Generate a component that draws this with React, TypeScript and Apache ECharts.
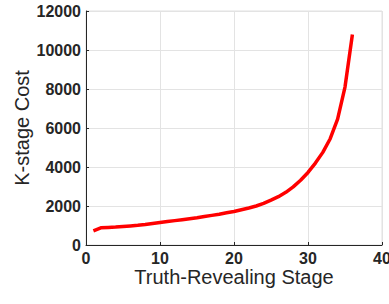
import React, { useEffect, useRef } from "react";
import * as echarts from "echarts";

const stages = [1,2,3,4,5,6,7,8,9,10,11,12,13,14,15,16,17,18,19,20,21,22,23,24,25,26,27,28,29,30,31,32,33,34,35,36];
const costs = [730,880,900,920,950,980,1010,1050,1100,1150,1200,1250,1300,1350,1400,1460,1520,1580,1650,1720,1810,1900,2000,2130,2300,2480,2700,2980,3320,3720,4200,4750,5450,6450,8100,10800];
const xTicks = [0, 10, 20, 30, 40];
const yTicks = [0, 2000, 4000, 6000, 8000, 10000, 12000];
const xLabel = "Truth-Revealing Stage";
const yLabel = "K-stage Cost";

export default function App() {
  const ref = useRef<HTMLDivElement>(null);
  useEffect(() => {
    if (!ref.current) return;
    const chart = echarts.init(ref.current, null, { renderer: "svg" });
    const font = "'Liberation Sans', Arial, Helvetica, sans-serif";
    const dark = "#262626";
    chart.setOption({
      animation: false,
      grid: { left: 86, right: 7, top: 11, bottom: 59, show: true, borderColor: "#e0e0e0", borderWidth: 1, containLabel: false, outerBoundsMode: "none" },
      xAxis: {
        type: "value",
        min: xTicks[0],
        max: xTicks[xTicks.length - 1],
        interval: 10,
        name: xLabel,
        nameLocation: "middle",
        nameGap: 22,
        nameMoveOverlap: false,
        nameTextStyle: { fontFamily: font, fontSize: 20, color: dark, verticalAlign: "top" },
        axisLine: { show: true, lineStyle: { color: dark, width: 1 } },
        axisTick: { show: true, inside: true, length: 3, lineStyle: { color: dark } },
        axisLabel: { fontFamily: font, fontSize: 16, fontWeight: "bold", color: dark, margin: 5, formatter: (v: number) => String(v) },
        splitLine: { show: true, lineStyle: { color: "#e3e3e3", width: 1 } },
      },
      yAxis: {
        type: "value",
        min: yTicks[0],
        max: yTicks[yTicks.length - 1],
        interval: 2000,
        name: yLabel,
        nameLocation: "middle",
        nameGap: 54,
        nameMoveOverlap: false,
        nameTextStyle: { fontFamily: font, fontSize: 20, color: dark },
        axisLine: { show: true, lineStyle: { color: dark, width: 1 } },
        axisTick: { show: true, inside: true, length: 3, lineStyle: { color: dark } },
        axisLabel: { fontFamily: font, fontSize: 16, fontWeight: "bold", color: dark, margin: 5, formatter: (v: number) => String(v) },
        splitLine: { show: true, lineStyle: { color: "#e3e3e3", width: 1 } },
      },
      series: [
        {
          type: "line",
          data: stages.map((s, i) => [s, costs[i]]),
          showSymbol: false,
          smooth: false,
          lineStyle: { color: "#ff0000", width: 3.5 },
        },
      ],
    });
    return () => chart.dispose();
  }, []);
  return <div ref={ref} style={{ width: 389, height: 304, position: "absolute", left: 0, top: 0 }} />;
}
